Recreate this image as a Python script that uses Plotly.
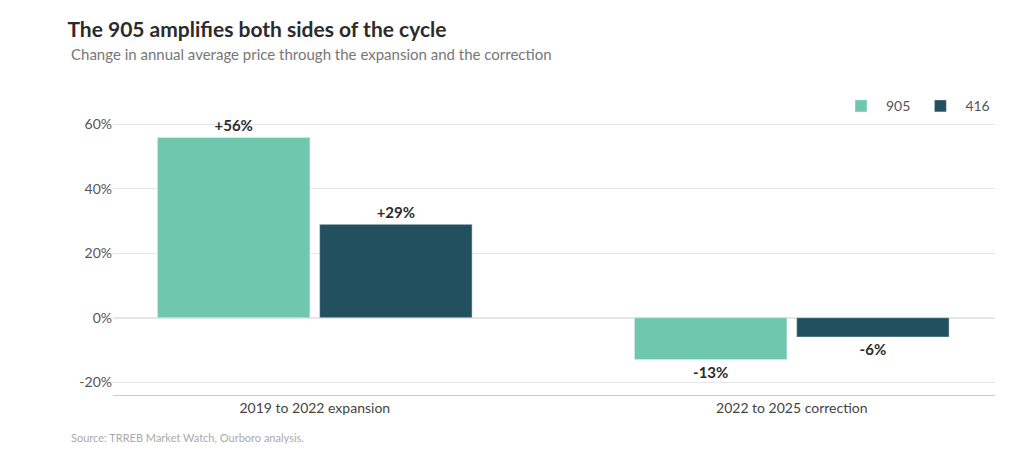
import plotly.graph_objects as go

periods = ['2019 to 2022 expansion', '2022 to 2025 correction']
change_905 = [56, -13]
change_416 = [29, -6]
tick_vals = [-20, 0, 20, 40, 60]
tick_text = ['-20%', '0%', '20%', '40%', '60%']

fig = go.Figure()
for name, vals, color in [('905', change_905, '#6FC7AE'), ('416', change_416, '#23505F')]:
    fig.add_trace(go.Bar(
        x=periods, y=vals, name=name, marker_color=color,
        text=[f'{v:+d}%' for v in vals], textposition='outside',
        textfont=dict(size=15, color='#2b2b2b', family='Lato', weight='bold'),
        cliponaxis=False,
    ))

fig.update_layout(
    width=1024, height=461,
    paper_bgcolor='white', plot_bgcolor='white',
    margin=dict(l=105, r=37, t=94, b=74),
    font=dict(family='Lato', color='#555', size=14),
    barmode='group', bargap=0.32, bargroupgap=0.06,
    title=dict(text='<b>The 905 amplifies both sides of the cycle</b>', x=0.058, xanchor='left',
               y=0.97, yanchor='top', font=dict(size=21, color='#2b2b2b')),
    legend=dict(orientation='h', x=1, xanchor='right', y=1.04, yanchor='top',
                font=dict(size=14, color='#555'), itemwidth=40),
    showlegend=True,
)
fig.add_annotation(text='Change in annual average price through the expansion and the correction',
                   xref='paper', yref='paper', x=-0.05, y=1.2, xanchor='left', showarrow=False,
                   font=dict(size=15, color='#777'))
fig.add_annotation(text='Source: TRREB Market Watch, Ourboro analysis.', xref='paper', yref='paper',
                   x=-0.05, y=-0.175, xanchor='left', showarrow=False, font=dict(size=11, color='#aaa'))
fig.update_yaxes(range=[-24, 67], tickvals=tick_vals, ticktext=tick_text, gridcolor='#e6e6e6',
                 zeroline=True, zerolinecolor='#e6e6e6', showline=False, ticks='', tickfont=dict(size=14, color='#555'))
fig.update_xaxes(range=[-0.423, 1.426], showline=True, linecolor='#ccc', ticks='', tickfont=dict(size=14, color='#444'))

fig.write_html('out.html')
